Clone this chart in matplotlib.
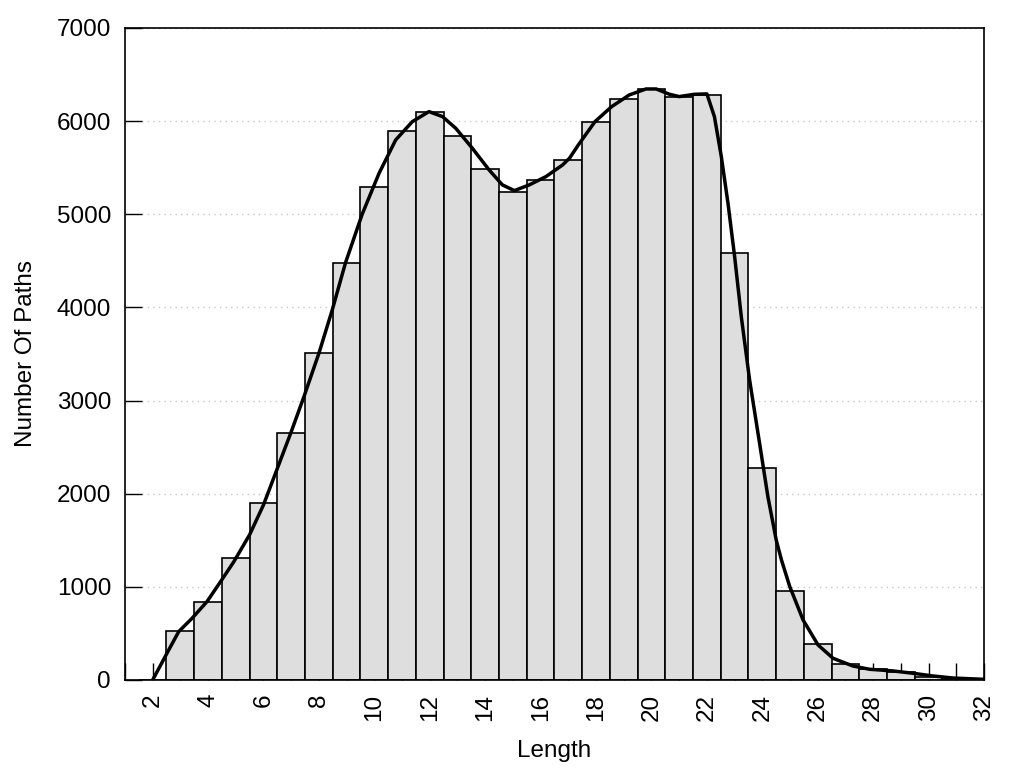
import numpy as np
import matplotlib
matplotlib.use("Agg")
import matplotlib.pyplot as plt
from matplotlib.ticker import MultipleLocator

plt.rcParams['font.family'] = ['Liberation Sans', 'DejaVu Sans']

# histogram of path lengths
lengths = list(range(2, 33))
counts = [0, 530, 841, 1310, 1900, 2652, 3511, 4480, 5290, 5898,
          6102, 5844, 5490, 5243, 5365, 5586, 5990, 6241, 6349, 6256,
          6284, 4581, 2273, 959, 383, 175, 118, 89, 36, 10, 0]

# smoothed density curve
curve_x = [2.0, 2.58, 2.94, 3.42, 3.96, 4.45, 4.93, 5.5, 6.0, 6.37,
           6.98, 7.46, 8.0, 8.48, 8.96, 9.56, 10.17, 10.77, 11.37,
           11.97, 12.46, 12.94, 13.54, 14.14, 14.62, 15.05, 15.59, 16.19,
           16.79, 17.04, 17.36, 17.96, 18.56, 19.2, 19.8, 20.17, 20.65,
           21.0, 21.55, 22.0, 22.27, 22.52, 22.76, 23.0, 23.24, 23.54,
           23.9, 24.2, 24.5, 24.69, 24.99, 25.47, 26.01, 26.55, 27.27,
           27.87, 28.72, 29.44, 30.16, 30.89, 32.0]
curve_y = [0, 322, 519, 662, 841, 1055, 1270, 1560, 1880, 2170,
           2648, 3042, 3508, 3972, 4480, 5000, 5440, 5798, 5994,
           6102, 6048, 5922, 5707, 5476, 5315, 5254, 5315, 5404,
           5529, 5601, 5744, 5994, 6155, 6281, 6345, 6345, 6288,
           6263, 6288, 6292, 6048, 5618, 5118, 4545, 3901, 3221,
           2541, 1968, 1503, 1288, 1002, 644, 376, 233, 150,
           115, 97, 72, 43, 21, 7]

fig = plt.figure(figsize=(10.24, 7.68), dpi=100)
ax = fig.add_axes([0.122, 0.1146, 0.839, 0.849])

ax.bar(lengths, counts, width=1.0, color='#dedede', edgecolor='black',
       linewidth=1.2, zorder=2)
ax.plot(curve_x, curve_y, color='black', linewidth=2.5, zorder=3,
        solid_joinstyle='round')

ax.set_xlim(1, 32)
ax.set_ylim(0, 7000)
ax.xaxis.set_major_locator(MultipleLocator(2))
ax.xaxis.set_minor_locator(MultipleLocator(1))
ax.yaxis.set_major_locator(MultipleLocator(1000))
ax.set_axisbelow(True)
ax.grid(axis='y', color='#c8c8c8', linestyle=(0, (1, 3)), linewidth=1)

ax.tick_params(axis='both', which='both', direction='in', length=12,
               width=1, labelsize=17.5, top=False, right=False)
ax.tick_params(axis='x', labelrotation=90, pad=10)
ax.tick_params(axis='y', pad=10)

for s in ax.spines.values():
    s.set_linewidth(1.2)

ax.set_xlabel("Length", fontsize=17.5, labelpad=14)
ax.set_ylabel("Number Of Paths", fontsize=17.5, labelpad=14)

fig.savefig("out.png", dpi=100)
